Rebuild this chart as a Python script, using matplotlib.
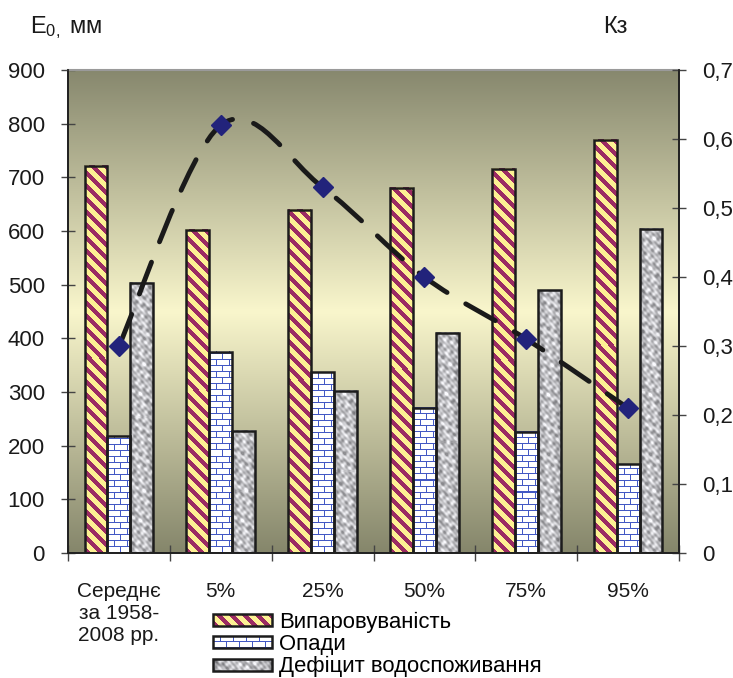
import numpy as np
import matplotlib
matplotlib.use('Agg')
import matplotlib.pyplot as plt
from matplotlib.path import Path
from matplotlib.patches import PathPatch, Rectangle
from matplotlib.image import BboxImage
from matplotlib.transforms import Bbox, TransformedBbox
from matplotlib.legend_handler import HandlerBase
from matplotlib.colors import LinearSegmentedColormap

plt.rcParams['font.family'] = ['Liberation Sans', 'DejaVu Sans']
plt.rcParams['mathtext.fontset'] = 'custom'
plt.rcParams['mathtext.rm'] = 'Liberation Sans'
plt.rcParams['mathtext.it'] = 'Liberation Sans'

# data
categories = ['Середнє\nза 1958-\n2008 рр.', '5%', '25%', '50%', '75%', '95%']
evaporation = [722, 602, 640, 681, 716, 770]
precipitation = [218, 375, 337, 271, 226, 165]
deficit = [504, 228, 302, 410, 490, 604]
kz = [0.30, 0.62, 0.53, 0.40, 0.31, 0.21]
left_ticks = [0, 100, 200, 300, 400, 500, 600, 700, 800, 900]
right_ticks = [0, 0.1, 0.2, 0.3, 0.4, 0.5, 0.6, 0.7]
right_labels = ['0', '0,1', '0,2', '0,3', '0,4', '0,5', '0,6', '0,7']
series_names = ['Випаровуваність', 'Опади', 'Дефіцит водоспоживання']

YELLOW = np.array([253, 241, 147]) / 255
MAROON = np.array([155, 43, 99]) / 255
BLUE = np.array([66, 88, 196]) / 255
EDGE = '#1c1c1c'


def stripes(h, w):
    y, x = np.mgrid[0:h, 0:w]
    img = np.empty((h, w, 3))
    img[:] = YELLOW
    img[((x + y) % 13) < 5.5] = MAROON
    return img


def bricks(h, w):
    y, x = np.mgrid[0:h, 0:w]
    row = y // 6
    img = np.ones((h, w, 3))
    mortar = (y % 6 == 0) | (((x + (row % 2) * 6) % 13) == 0)
    img[mortar] = BLUE
    return img


def granite(h, w):
    y, x = np.mgrid[0:h, 0:w].astype(float)
    v = (np.sin(0.45 * x + 0.8 * y) + np.sin(0.9 * x - 0.35 * y + 1.3)
         + np.sin(0.25 * x + 0.6 * y + 2.1) + np.sin(1.3 * x + 1.1 * y + 0.4)
         + np.sin(0.5 * x - 0.9 * y + 3.3) + np.sin(0.7 * x + 0.15 * y + 5.0)) / 3.5
    v = np.clip(v, -1, 1)
    edge = np.abs((x + 0.5) / w - 0.5) * 2
    g = (198 - 55 * v - 35 * edge ** 2) / 255
    img = np.stack([g, g, g + 0.015], axis=-1)
    return np.clip(img, 0, 1)


class TextureHandler(HandlerBase):
    def __init__(self, maker):
        super().__init__()
        self.maker = maker

    def create_artists(self, legend, orig_handle, xdescent, ydescent,
                       width, height, fontsize, trans):
        k = legend.figure.dpi / 72
        w = max(int(round(width * k)), 1)
        h = max(int(round(height * k)), 1)
        bb = TransformedBbox(Bbox.from_bounds(-xdescent, -ydescent, width, height), trans)
        im = BboxImage(bb, interpolation='nearest', origin='lower')
        im.set_data(self.maker(h, w))
        edge = Rectangle((-xdescent, -ydescent), width, height, facecolor='none',
                         edgecolor=EDGE, lw=1.8, transform=trans)
        return [im, edge]


fig = plt.figure(figsize=(7.33, 6.78), dpi=100)
ax = fig.add_axes([68 / 733, 125 / 678, 611 / 733, 483 / 678])
ax.set_xlim(-0.5, len(categories) - 0.5)
ax.set_ylim(0, 900)
ax.set_autoscale_on(False)

# background gradient
bg = LinearSegmentedColormap.from_list('bg', ['#85866b', '#f9f6cc', '#87886e'])
ax.imshow(np.linspace(0, 1, 256).reshape(-1, 1), cmap=bg, origin='lower',
          extent=(0, 1, 0, 1), transform=ax.transAxes, aspect='auto', zorder=0)

ppx = 611 / len(categories)
ppy = 483 / 900
x = np.arange(len(categories))
bw = 0.225
for vals, off, maker in [(evaporation, -bw, stripes), (precipitation, 0, bricks),
                         (deficit, bw, granite)]:
    bars = ax.bar(x + off, vals, bw, facecolor='none', edgecolor=EDGE, lw=1.8, zorder=3)
    for r in bars:
        x0, wd, ht = r.get_x(), r.get_width(), r.get_height()
        tex = maker(max(int(round(ht * ppy)), 1), max(int(round(wd * ppx)), 1))
        ax.imshow(tex, extent=(x0, x0 + wd, 0, ht), origin='lower', aspect='auto',
                  interpolation='nearest', zorder=2, clip_path=r)

ax.set_yticks(left_ticks)
ax.set_xticks(np.arange(-0.5, len(categories), 1))
ax.set_xticks(x, categories, minor=True)
ax.set_xticklabels(categories, minor=True, linespacing=1.2)
ax.tick_params(axis='x', which='major', direction='inout', length=12, width=1,
               color='#444444', labelbottom=False)
ax.tick_params(axis='x', which='minor', length=0, pad=21, labelsize=15,
               labelcolor='#1a1a1a')
ax.tick_params(axis='y', direction='inout', length=9.4, width=1, color='#444444',
               labelsize=16, pad=12, labelcolor='#1a1a1a')
for s in ['left', 'bottom', 'right']:
    ax.spines[s].set_color('#222222')
    ax.spines[s].set_linewidth(1.3)
ax.spines['top'].set_color('#9a9a9a')
ax.spines['top'].set_linewidth(1.5)

ax2 = ax.twinx()
ax2.set_ylim(0, 0.7)
ax2.set_yticks(right_ticks, right_labels)
ax2.tick_params(axis='y', direction='inout', length=9.4, width=1, color='#444444',
                labelsize=16, pad=12, labelcolor='#1a1a1a')
for s in ['left', 'bottom', 'right']:
    ax2.spines[s].set_color('#222222')
    ax2.spines[s].set_linewidth(1.3)
ax2.spines['top'].set_visible(False)

# smoothed dashed line through the Kz points
pts = np.column_stack([x, kz]).astype(float)
ext = np.vstack([pts[0], pts, pts[-1]])
verts = [pts[0]]
codes = [Path.MOVETO]
for i in range(len(pts) - 1):
    p0, p1, p2, p3 = ext[i], ext[i + 1], ext[i + 2], ext[i + 3]
    verts += [p1 + (p2 - p0) / 6, p2 - (p3 - p1) / 6, p2]
    codes += [Path.CURVE4] * 3
ax2.add_patch(PathPatch(Path(verts, codes), facecolor='none', edgecolor='#1a1a1a',
                        lw=3.5, linestyle=(0, (7, 4.5)), capstyle='round', zorder=4))
ax2.plot(x, kz, 'D', color='#22237b', ms=10, zorder=5, clip_on=False)

fig.text(30 / 733, 1 - 33 / 678, r'E$_{0,}$ мм', fontsize=17, va='baseline',
         color='#1a1a1a')
fig.text(603 / 733, 1 - 33 / 678, 'Кз', fontsize=17, va='baseline', color='#1a1a1a')

proxies = [Rectangle((0, 0), 1, 1) for _ in series_names]
hmap = {proxies[0]: TextureHandler(stripes), proxies[1]: TextureHandler(bricks),
        proxies[2]: TextureHandler(granite)}
fig.legend(proxies, series_names, handler_map=hmap, loc='upper left',
           bbox_to_anchor=(213 / 733, 1 - 612 / 678), frameon=False, fontsize=15.9,
           handlelength=2.65, handleheight=0.45, handletextpad=0.35, labelspacing=0.05,
           borderpad=0, borderaxespad=0)

fig.savefig('out.png', dpi=100)
